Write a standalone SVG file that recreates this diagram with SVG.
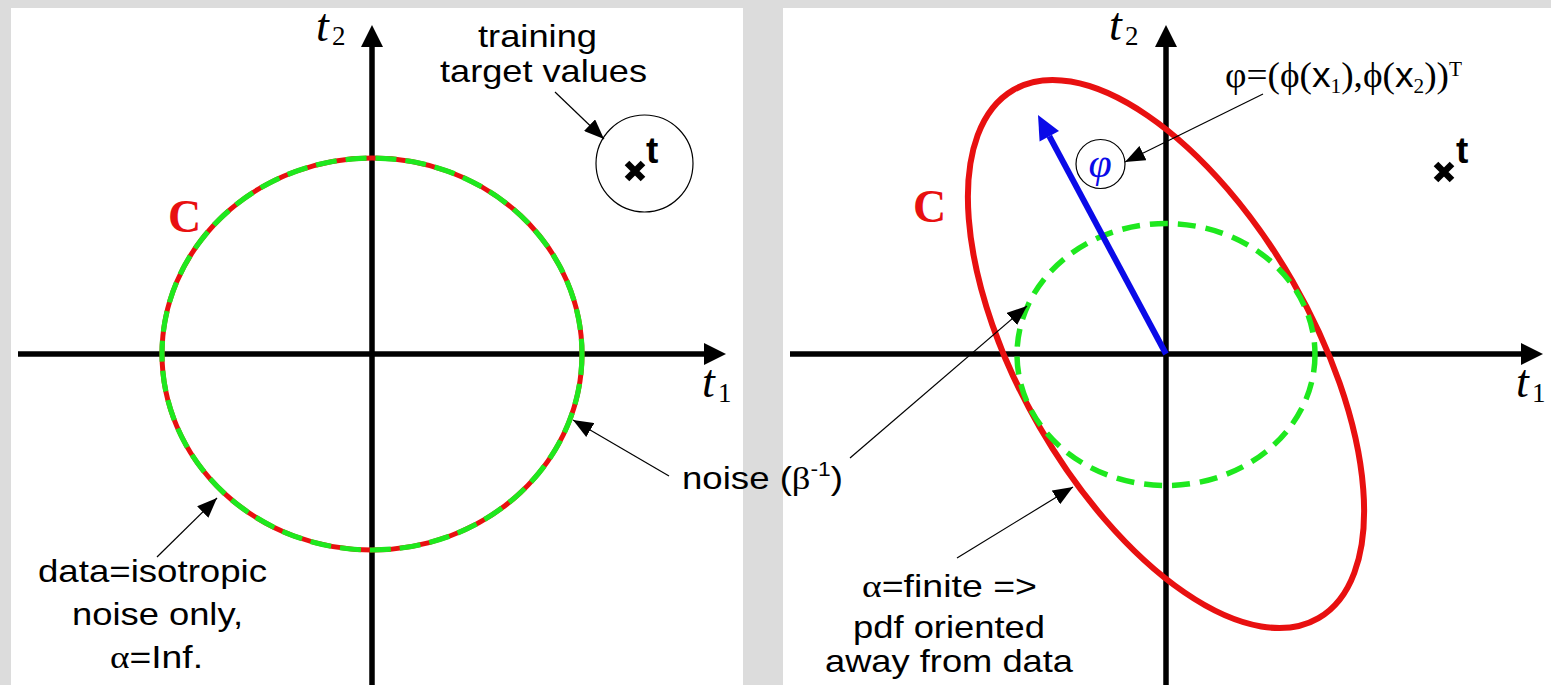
<svg xmlns="http://www.w3.org/2000/svg" width="1551" height="685" viewBox="0 0 1551 685">
<defs>
<style>
.lbl{font-family:"Liberation Sans",Arial,sans-serif;font-size:32px;fill:#000}
.ser{font-family:"Liberation Serif","Times New Roman",serif}
.math{font-family:"Liberation Serif","Times New Roman",serif;font-style:italic;font-size:46px;fill:#000}
.sub{font-family:"Liberation Serif","Times New Roman",serif;font-size:27px;fill:#000}
.cl{font-family:"Liberation Serif","Times New Roman",serif;font-weight:bold;font-size:46px;fill:#e81010}
.tb{font-family:"Liberation Sans",Arial,sans-serif;font-weight:bold;font-size:37px;fill:#000}
.axis{stroke:#000;stroke-width:5.5;fill:none}
.thin{stroke:#000;stroke-width:1.2;fill:none;marker-end:url(#ah)}
.xm{stroke:#000;stroke-width:6.5;fill:none}
</style>
<marker id="ah" viewBox="0 0 20 16" refX="20" refY="8" markerWidth="20" markerHeight="16" markerUnits="userSpaceOnUse" orient="auto">
<path d="M0,0 L20,8 L0,16 z" fill="#000"/>
</marker>
</defs>
<rect x="0" y="0" width="1551" height="685" fill="#dcdcdc"/>
<rect x="11" y="8" width="732" height="677" fill="#fff"/>
<rect x="783" y="8" width="768" height="677" fill="#fff"/>

<g id="left-axes">
<line class="axis" x1="18" y1="354" x2="706" y2="354"/>
<polygon points="726,354 704,343 704,365" fill="#000"/>
<line class="axis" x1="372" y1="685" x2="372" y2="45"/>
<polygon points="372,25 361,47 383,47" fill="#000"/>
<text class="math" x="316" y="41">t</text><text class="sub" x="332" y="45">2</text>
<text class="math" x="702" y="397">t</text><text class="sub" x="718" y="402">1</text>
</g>

<g id="left-circle">
<ellipse cx="372" cy="354" rx="210" ry="196" fill="none" stroke="#e81010" stroke-width="5"/>
<ellipse cx="372" cy="354" rx="210" ry="196" fill="none" stroke="#1ee81e" stroke-width="5.2" stroke-dasharray="21 9"/>
<text class="cl" x="168" y="232">C</text>
</g>

<g id="left-target">
<circle cx="644.5" cy="163.5" r="48.5" fill="none" stroke="#000" stroke-width="1.2"/>
<path class="xm" d="M627,163 L643,179 M643,163 L627,179"/>
<text class="tb" x="646" y="163">t</text>
</g>

<g id="left-labels">
<text class="lbl" x="478" y="47" textLength="119" lengthAdjust="spacingAndGlyphs">training</text>
<text class="lbl" x="440" y="82" textLength="207" lengthAdjust="spacingAndGlyphs">target values</text>
<text class="lbl" x="682" y="489" textLength="161" lengthAdjust="spacingAndGlyphs">noise (<tspan class="ser">β</tspan><tspan font-size="20" dy="-13">-1</tspan><tspan dy="13">)</tspan></text>
<text class="lbl" x="38" y="582" textLength="229" lengthAdjust="spacingAndGlyphs">data=isotropic</text>
<text class="lbl" x="72" y="625" textLength="171" lengthAdjust="spacingAndGlyphs">noise only,</text>
<text class="lbl" x="110" y="668" textLength="93" lengthAdjust="spacingAndGlyphs"><tspan class="ser">α</tspan>=Inf.</text>
</g>

<g id="right-axes">
<line class="axis" x1="790" y1="354" x2="1523" y2="354"/>
<polygon points="1543,354 1521,343 1521,365" fill="#000"/>
<line class="axis" x1="1166" y1="685" x2="1166" y2="45"/>
<polygon points="1166,25 1155,47 1177,47" fill="#000"/>
<text class="math" x="1109" y="40">t</text><text class="sub" x="1125" y="45">2</text>
<text class="math" x="1516" y="397">t</text><text class="sub" x="1532" y="402">1</text>
</g>

<g id="right-ellipse">
<ellipse cx="0" cy="0" rx="305" ry="146" transform="translate(1166,354) rotate(60)" fill="none" stroke="#e81010" stroke-width="6"/>
<text class="cl" x="913" y="222">C</text>
</g>

<g id="right-green">
<ellipse cx="1166" cy="354.5" rx="149" ry="131" fill="none" stroke="#1ee81e" stroke-width="5.5" stroke-dasharray="18 10"/>
</g>

<g id="phi-vector">
<line x1="1166" y1="354" x2="1049.3" y2="136.2" stroke="#0a0ae8" stroke-width="6"/>
<polygon points="1038,115 1059,131 1039.6,141.4" fill="#0a0ae8"/>
<circle cx="1100.5" cy="164" r="24.5" fill="none" stroke="#000" stroke-width="1.2"/>
<text x="1100" y="177" text-anchor="middle" font-family="Liberation Serif, serif" font-style="italic" font-size="42" fill="#0a0ae8">φ</text>
</g>

<g id="right-target">
<path class="xm" d="M1436,164 L1452,180 M1452,164 L1436,180"/>
<text class="tb" x="1456" y="163">t</text>
</g>

<g id="right-labels">
<text class="ser" x="1225" y="87" font-size="35" textLength="237" lengthAdjust="spacingAndGlyphs">φ=(ϕ(<tspan font-family="Liberation Sans, sans-serif">x</tspan><tspan font-size="20" dy="6">1</tspan><tspan dy="-6">),ϕ(</tspan><tspan font-family="Liberation Sans, sans-serif">x</tspan><tspan font-size="20" dy="6">2</tspan><tspan dy="-6">))</tspan><tspan font-size="20" dy="-11">T</tspan></text>
<text class="lbl" x="862" y="597" textLength="175" lengthAdjust="spacingAndGlyphs"><tspan class="ser">α</tspan>=finite =&gt;</text>
<text class="lbl" x="853" y="638" textLength="192" lengthAdjust="spacingAndGlyphs">pdf oriented</text>
<text class="lbl" x="825" y="672" textLength="248" lengthAdjust="spacingAndGlyphs">away from data</text>
</g>

<g id="connectors">
<line class="thin" x1="555" y1="92" x2="604" y2="139"/>
<line class="thin" x1="669" y1="476" x2="573" y2="420"/>
<line class="thin" x1="850" y1="458" x2="1027" y2="306"/>
<line class="thin" x1="157" y1="557" x2="217" y2="498"/>
<line class="thin" x1="1263" y1="94" x2="1125" y2="162"/>
<line class="thin" x1="957" y1="558" x2="1073" y2="487"/>
</g>
</svg>
